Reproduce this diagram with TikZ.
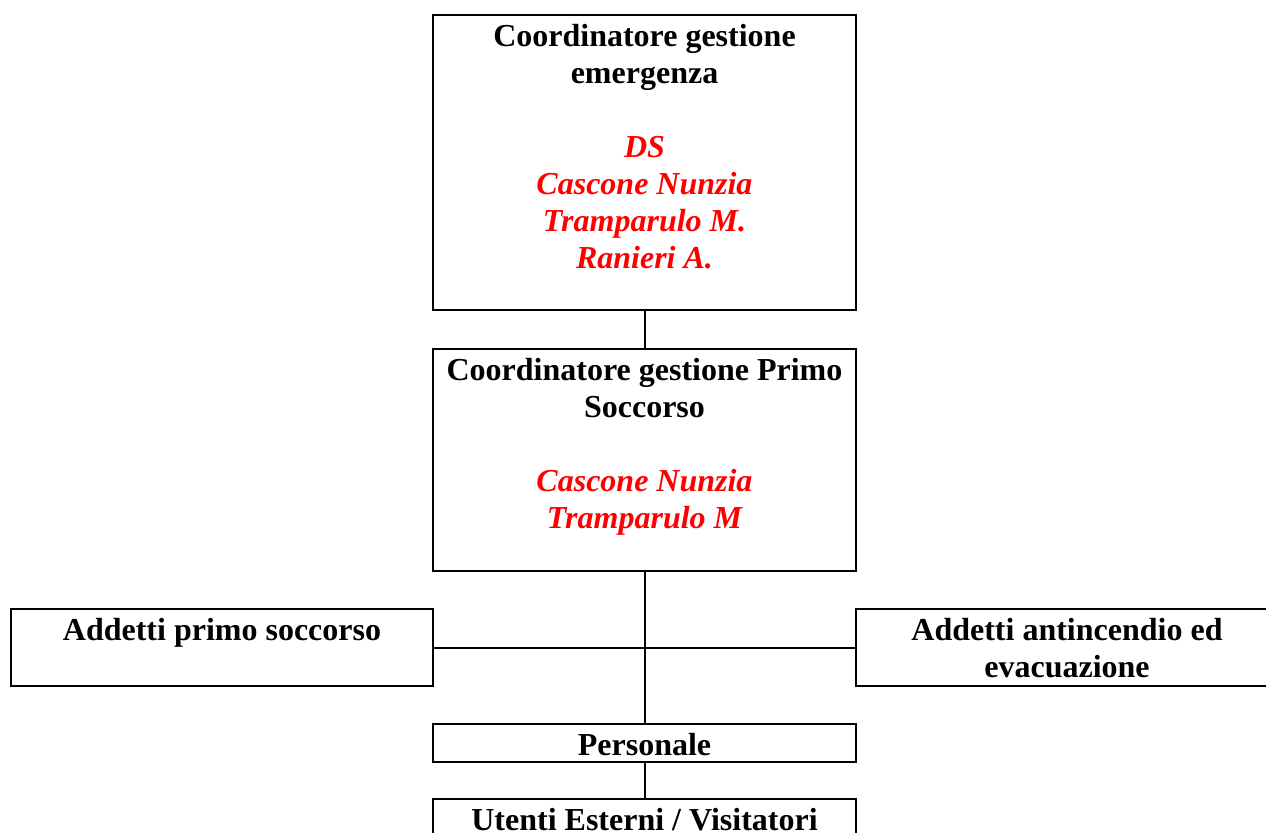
\documentclass[tikz,border=0pt]{standalone}
\usepackage{fontspec}
\setmainfont{Liberation Serif}
\usetikzlibrary{positioning}
\newcommand\rosso[1]{\textcolor{red}{\itshape #1}}
\begin{document}
\begin{tikzpicture}[x=0.5pt,y=-0.5pt,line width=1pt,
		box/.style={draw,line width=1pt,inner sep=0pt},
		txt/.style={align=center,inner sep=0pt,font=\fontsize{16}{18.5}\selectfont\bfseries}]
		\clip (0,0) rectangle (1266,832);
		% caselle
		\node[box,minimum width=211.5pt,minimum height=147.5pt] (coord) at (644.5,162.5) {};
		\node[box,minimum width=211.5pt,minimum height=111pt] (primo) at (644.5,460) {};
		\node[box,minimum width=211pt,minimum height=38.5pt] (addps) at (222,647.5) {};
		\node[box,minimum width=211pt,minimum height=38.5pt] (addai) at (1067,647.5) {};
		\node[box,minimum width=211.5pt,minimum height=19pt] (pers) at (644.5,743) {};
		\node[box,minimum width=211.5pt,minimum height=60pt] (utenti) at (644.5,859) {};
		% testi
		\node[txt,below=4.5pt of coord.north] (coordtxt) {Coordinatore gestione\\emergenza\\[18.5pt]
			\rosso{DS}\\\rosso{Cascone Nunzia}\\\rosso{Tramparulo M.}\\\rosso{Ranieri A.}};
		\node[txt,below=4.5pt of primo.north] (primotxt) {Coordinatore gestione Primo\\Soccorso\\[18.5pt]
			\rosso{Cascone Nunzia}\\\rosso{Tramparulo M}};
		\node[txt,below=4.5pt of addps.north] (addpstxt) {Addetti primo soccorso};
		\node[txt,below=4.5pt of addai.north] (addaitxt) {Addetti antincendio ed\\evacuazione};
		\node[txt,below=4.5pt of pers.north] (perstxt) {Personale};
		\node[txt,below=4.5pt of utenti.north] (utentitxt) {Utenti Esterni / Visitatori};
		% collegamenti
		\draw (coord) -- (primo);
		\draw (primo) -- (pers);
		\draw (addps) -- (addai);
		\draw (pers) -- (utenti);
	\end{tikzpicture}
\end{document}
